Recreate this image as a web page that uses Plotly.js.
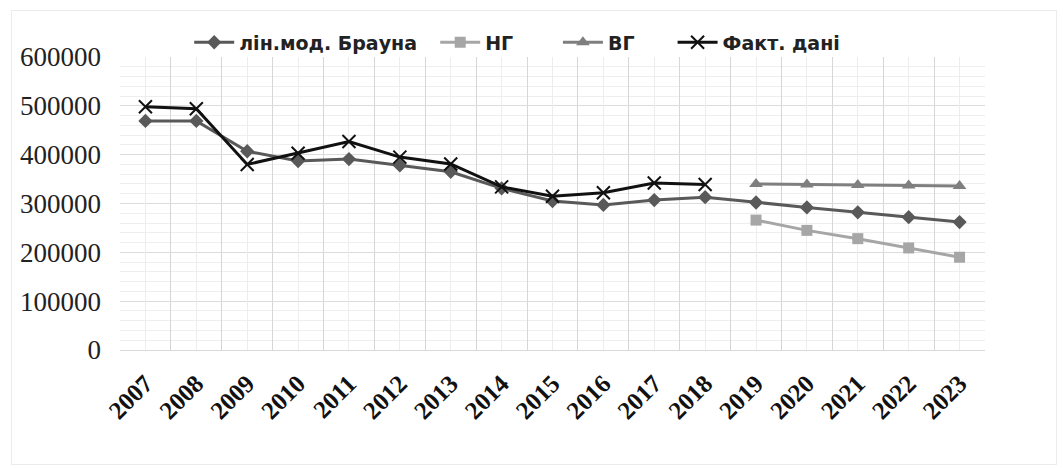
<!DOCTYPE html>
<html>
<head>
<meta charset="utf-8">
<script src="https://cdn.plot.ly/plotly-3.0.1.min.js"></script>
<style>
html,body{margin:0;padding:0;background:#fff;}
#frame{position:absolute;left:11px;top:10px;width:1046px;height:455px;border:1px solid #ececec;box-sizing:border-box;}
#chart{position:absolute;left:0;top:0;width:1063px;height:468px;}
</style>
</head>
<body>
<div id="frame"></div>
<div id="chart"></div>
<script>
const years = ['2007','2008','2009','2010','2011','2012','2013','2014','2015','2016','2017','2018','2019','2020','2021','2022','2023'];
const brownYears = years;
const brownValues = [469000,469000,407000,387000,391000,378000,365000,331000,305000,297000,307000,313000,302000,292000,282000,272000,262000];
const forecastYears = ['2019','2020','2021','2022','2023'];
const lowValues = [266000,245000,228000,209000,190000];
const highValues = [340000,339000,338000,337000,336000];
const factYears = ['2007','2008','2009','2010','2011','2012','2013','2014','2015','2016','2017','2018'];
const factValues = [498000,494000,380000,403000,427000,395000,381000,334000,315000,322000,342000,339000];
const seriesNames = ['лін.мод. Брауна', 'НГ', 'ВГ', 'Факт. дані'];

const pad = n => '\u00a0'.repeat(n);

const traces = [
  {x: brownYears, y: brownValues, name: seriesNames[0] + pad(2), type: 'scatter', mode: 'lines+markers',
   line: {color: '#595959', width: 3}, marker: {symbol: 'diamond', size: 11, color: '#595959'}},
  {x: forecastYears, y: lowValues, name: seriesNames[1] + pad(6), type: 'scatter', mode: 'lines+markers',
   line: {color: '#a6a6a6', width: 3}, marker: {symbol: 'square', size: 11, color: '#a6a6a6'}},
  {x: forecastYears, y: highValues, name: seriesNames[2] + pad(5), type: 'scatter', mode: 'lines+markers',
   line: {color: '#7f7f7f', width: 3}, marker: {symbol: 'triangle-up', size: 12, color: '#7f7f7f'}},
  {x: factYears, y: factValues, name: seriesNames[3], type: 'scatter', mode: 'lines+markers',
   line: {color: '#111111', width: 3}, marker: {symbol: 'x-thin', size: 13, line: {color: '#111111', width: 2}}},
  {x: [0, 16], y: [0, 0], xaxis: 'x2', type: 'scatter', mode: 'markers', marker: {opacity: 0}, showlegend: false, hoverinfo: 'skip'}
];

const layout = {
  width: 1063, height: 468,
  margin: {l: 120, r: 78, t: 57, b: 118},
  paper_bgcolor: 'rgba(0,0,0,0)', plot_bgcolor: '#fff',
  showlegend: true,
  legend: {orientation: 'h', x: 0.08, xanchor: 'left', y: 0.985, yanchor: 'bottom',
    font: {family: 'DejaVu Sans, Liberation Sans, sans-serif', size: 19, color: '#222', weight: 'bold'},
    itemwidth: 40, tracegroupgap: 0, bgcolor: 'rgba(0,0,0,0)'},
  xaxis: {type: 'category', categoryorder: 'array', categoryarray: years, range: [-0.5, 16.5],
    tickson: 'boundaries', showgrid: true, gridcolor: '#d6d6d6', gridwidth: 1,
    ticks: '', tickangle: -45, zeroline: false, showline: true, linecolor: '#d9d9d9',
    ticklabelstandoff: 8,
    tickfont: {family: 'Liberation Serif, Times New Roman, serif', size: 25, color: '#111', weight: 'bold'}},
  xaxis2: {overlaying: 'x', range: [-0.5, 16.5], dtick: 1, tick0: 0, showgrid: true, gridcolor: '#ededed',
    showticklabels: false, zeroline: false, ticks: ''},
  yaxis: {range: [0, 600000], dtick: 100000, showgrid: true, gridcolor: '#dcdcdc', zeroline: false,
    minor: {dtick: 20000, showgrid: true, gridcolor: '#eeeeee'},
    ticks: '', ticklen: 0, tickformat: 'd', showline: false, ticklabelstandoff: 18,
    tickfont: {family: 'Liberation Serif, Times New Roman, serif', size: 27, color: '#222'}},
  font: {family: 'Liberation Sans, Arial, sans-serif'}
};

Plotly.newPlot('chart', traces, layout, {displayModeBar: false, staticPlot: true});
</script>
</body>
</html>
